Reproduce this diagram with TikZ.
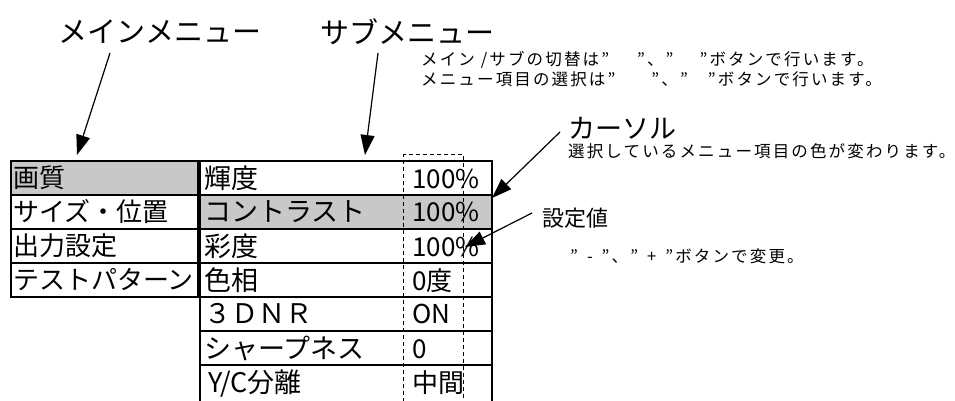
\documentclass[tikz,border=0pt]{standalone}
\usepackage{fontspec}
\setmainfont{Noto Sans CJK JP}
\newfontfamily\notefont[LetterSpace=13]{Noto Sans CJK JP}
\usepackage{tikz}
\usetikzlibrary{
    arrows.meta,
    positioning
}
\definecolor{selgray}{RGB}{200,200,200}
\tikzset{
    cell/.style={draw, line width=1.2pt, anchor=north west, outer sep=0pt,
        minimum height=34pt, inner xsep=2pt, inner ysep=0pt, align=left,
        font=\fontsize{26}{26}\selectfont},
    maincell/.style={cell, text width=183pt},
    subcell/.style={cell, inner xsep=4pt, text width=284pt, font=\fontsize{27}{27}\selectfont},
    val/.style={anchor=base west, inner sep=0pt, font=\fontsize{26}{26}\selectfont},
    head/.style={font=\fontsize{29}{29}\selectfont},
    note/.style={anchor=north west, align=left, inner sep=0pt,
        font=\fontsize{16.5}{20}\notefont},
    pointer/.style={line width=1.2pt, -{Triangle[length=20pt,width=14pt]}}
}
\begin{document}
\begin{tikzpicture}[x=1pt, y=-1pt]
    \useasboundingbox (0,0) rectangle (955,400);

    % main menu
    \node[maincell, fill=selgray] (m1) at (11,161) {画質};
    \node[maincell, below=0pt of m1] (m2) {サイズ・位置};
    \node[maincell, below=0pt of m2] (m3) {出力設定};
    \node[maincell, below=0pt of m3] (m4) {テストパターン};

    % sub menu
    \node[subcell] (s1) at (200,161) {輝度};
    \node[subcell, fill=selgray, below=0pt of s1] (s2) {コントラスト};
    \node[subcell, below=0pt of s2] (s3) {彩度};
    \node[subcell, below=0pt of s3] (s4) {色相};
    \node[subcell, below=0pt of s4] (s5) {３ＤＮＲ};
    \node[subcell, below=0pt of s5] (s6) {シャープネス};
    \node[subcell, below=0pt of s6, text height=27pt, text depth=25pt] (s7) {\hspace{4pt}Y/C分離};

    % value column
    \node[draw, dashed, dash pattern=on 4pt off 3pt, line width=1pt, anchor=north west,
        minimum width=60pt, minimum height=260pt] (vcol) at (403,154) {};
    \coordinate (vx) at (412,0);
    \node[val] (v1) at (s1.base west -| vx) {100\%};
    \node[val] (v2) at (s2.base west -| vx) {100\%};
    \node[val] (v3) at (s3.base west -| vx) {100\%};
    \node[val] (v4) at (s4.base west -| vx) {0度};
    \node[val] (v5) at (s5.base west -| vx) {ON};
    \node[val] (v6) at (s6.base west -| vx) {0};
    \node[val] (v7) at (s7.base west -| vx) {中間};

    % labels
    \node[head] (ml) at (160,32) {メインメニュー};
    \node[head] (sl) at (407,32) {サブメニュー};
    \node[note] (nt) at (421,51) {メイン /サブの切替は”\hspace{28pt}”、”\hspace{26pt}”ボタンで行います。\\
        メニュー項目の選択は”\hspace{36pt}”、”\hspace{20pt}”ボタンで行います。};
    \node[head, anchor=west, inner sep=0pt, font=\fontsize{27}{27}\selectfont] (cl) at (568,128) {カーソル};
    \node[note, anchor=west] (ct) at (568,151) {選択しているメニュー項目の色が変わります。};
    \node[anchor=west, inner sep=0pt, font=\fontsize{22}{22}\selectfont] (vl) at (542,218) {設定値};
    \node[note, anchor=west] (vt) at (570,256) {”\hspace{9pt}-\hspace{9pt}”、”\hspace{9pt}+\hspace{9pt}”ボタンで変更。};

    % pointers
    \coordinate (mtail) at (110,53);
    \coordinate (mtip) at (77,155);
    \coordinate (stail) at (378,53);
    \coordinate (stip) at (365,155);
    \coordinate (ctail) at (560,132);
    \coordinate (ctip) at (492,198);
    \coordinate (vtail) at (532,213);
    \coordinate (vtip) at (465,247);
    \draw[pointer] (mtail) -- (mtip);
    \draw[pointer] (stail) -- (stip);
    \draw[pointer] (ctail) -- (ctip);
    \draw[pointer] (vtail) -- (vtip);
\end{tikzpicture}
\end{document}
